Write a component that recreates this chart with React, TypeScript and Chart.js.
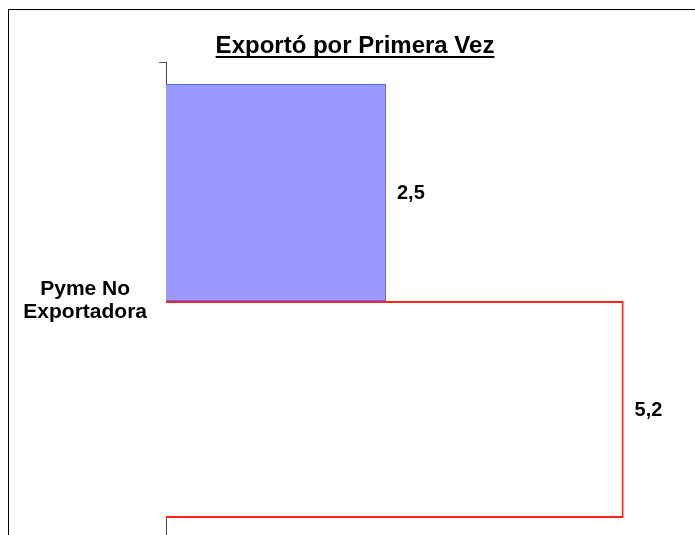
import React, { useEffect, useRef } from "react";
import { Chart, registerables } from "chart.js";

Chart.register(...registerables);

const chartTitle = "Exportó por Primera Vez";
const categories = [["Pyme No", "Exportadora"]];
const seriesNames = ["Exportó por Primera Vez", "Pyme No Exportadora"];
const blueValues = [2.5];
const redValues = [5.2];
const xMin = 0;
const xMax = 6;

const FONT = "'Liberation Sans', Arial, Helvetica, sans-serif";

const fmt = (v: number) => v.toFixed(1).replace(".", ",");

const decorPlugin = {
  id: "decor",
  beforeDraw(chart: any) {
    const ctx = chart.ctx;
    ctx.save();
    ctx.fillStyle = "#ffffff";
    ctx.fillRect(0, 0, chart.width, chart.height);
    ctx.fillStyle = "#000000";
    // frame (top and left visible)
    ctx.fillRect(8, 9, chart.width - 8, 1);
    ctx.fillRect(8, 9, 1, chart.height - 9);
    ctx.restore();
  },
  afterDraw(chart: any) {
    const ctx = chart.ctx;
    ctx.save();
    ctx.font = `bold 24px ${FONT}`;
    ctx.fillStyle = "#000";
    ctx.textAlign = "center";
    ctx.textBaseline = "alphabetic";
    const cx = 355;
    const by = 53;
    ctx.fillText(chartTitle, cx, by);
    const w = ctx.measureText(chartTitle).width;
    ctx.fillRect(cx - w / 2, by + 3, w, 2);
    ctx.restore();
  },
  afterDatasetsDraw(chart: any) {
    const ctx = chart.ctx;
    ctx.save();
    ctx.font = `bold 20px ${FONT}`;
    ctx.fillStyle = "#000";
    ctx.textAlign = "left";
    ctx.textBaseline = "middle";
    chart.data.datasets.forEach((ds: any, i: number) => {
      const meta = chart.getDatasetMeta(i);
      meta.data.forEach((el: any, j: number) => {
        ctx.fillText(fmt(ds.data[j]), el.x + 11, el.y + 1);
      });
    });
    ctx.restore();
  },
};

export default function App() {
  const ref = useRef<HTMLCanvasElement | null>(null);
  useEffect(() => {
    if (!ref.current) return;
    const chart = new Chart(ref.current, {
      type: "bar",
      data: {
        labels: categories as any,
        datasets: [
          {
            label: seriesNames[0],
            data: blueValues,
            backgroundColor: "#9999FF",
            borderColor: "#5572FF",
            borderWidth: 1,
            categoryPercentage: 0.908,
            barPercentage: 1,
          },
          {
            label: seriesNames[1],
            data: redValues,
            backgroundColor: "#FFFFFF",
            borderColor: "#FF2020",
            borderWidth: 2,
            categoryPercentage: 0.908,
            barPercentage: 1,
          },
        ],
      },
      options: {
        indexAxis: "y",
        responsive: false,
        animation: false,
        devicePixelRatio: 1,
        layout: { padding: { top: 62, right: 1, bottom: 0, left: 0 } },
        plugins: {
          legend: { display: false },
          title: { display: false },
          tooltip: { enabled: false },
        },
        scales: {
          x: { display: false, min: xMin, max: xMax },
          y: {
            z: 1,
            afterFit: (scale: any) => {
              scale.width = 166;
              scale.paddingTop = 0;
              scale.paddingBottom = 0;
            },
            grid: {
              display: true,
              drawOnChartArea: false,
              drawTicks: true,
              tickLength: 7,
              color: "#555555",
              offset: true,
            },
            border: { display: true, color: "#444444", width: 1 },
            ticks: {
              crossAlign: "center",
              padding: 12,
              color: "#000",
              font: { family: FONT, size: 21, weight: "bold", lineHeight: 1.1 },
            },
          },
        },
      } as any,
      plugins: [decorPlugin],
    });
    return () => chart.destroy();
  }, []);
  return (
    <canvas
      ref={ref}
      width={695}
      height={540}
      style={{ position: "fixed", left: 0, top: 0, display: "block" }}
    />
  );
}
